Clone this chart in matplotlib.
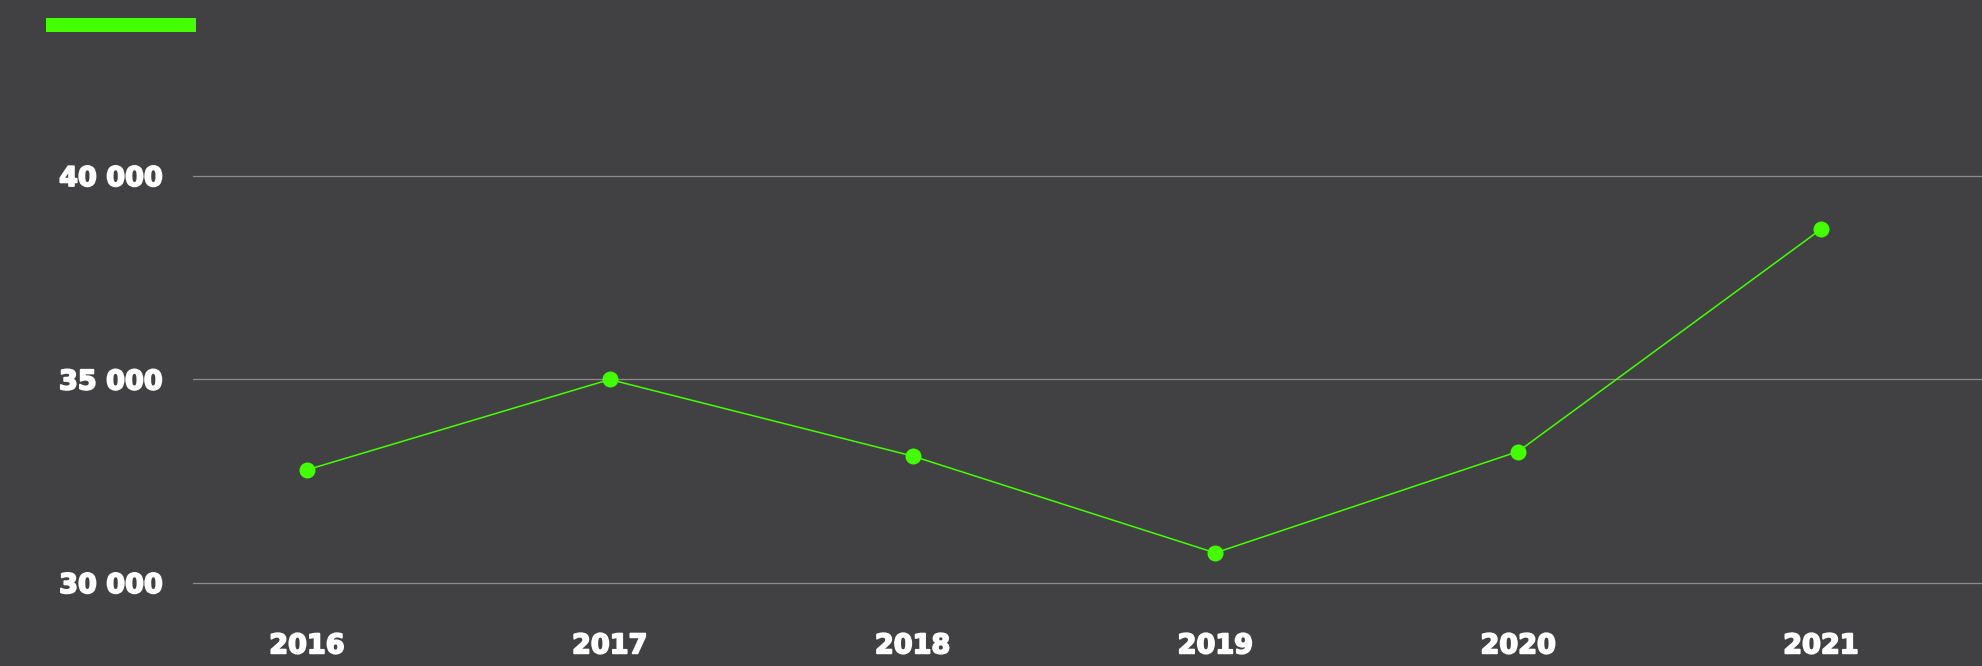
import matplotlib.pyplot as plt
import matplotlib.patheffects as pe
from matplotlib.patches import Rectangle
from matplotlib.ticker import FuncFormatter

years = ["2016", "2017", "2018", "2019", "2020", "2021"]
values = [32780, 35000, 33120, 30740, 33230, 38690]
yticks = [30000, 35000, 40000]

BG = "#414143"
GREEN = "#44ff00"
GRID = "#8c8c8c"

plt.rcParams["font.family"] = ["DejaVu Sans"]

fig = plt.figure(figsize=(19.82, 6.66), dpi=100, facecolor=BG)
ax = fig.add_axes([0.0974, 0.0991, 0.9026, 0.8108], facecolor=BG)

x = list(range(len(years)))
ax.plot(x, values, color=GREEN, lw=1.1, marker="o", ms=11.5,
        markerfacecolor=GREEN, markeredgewidth=0, zorder=3)

ax.set_xlim(-0.376, 5.532)
ax.set_ylim(29582, 42850)
ax.set_xticks(x)
ax.set_xticklabels(years)
ax.set_yticks(yticks)
ax.yaxis.set_major_formatter(FuncFormatter(lambda v, p: f"{int(v):,}".replace(",", " ")))

ax.grid(axis="y", color=GRID, lw=0.9)
ax.grid(axis="x", visible=False)
ax.set_axisbelow(True)
for s in ax.spines.values():
    s.set_visible(False)
ax.tick_params(axis="both", length=0, colors="white", labelsize=19.5)
ax.tick_params(axis="y", pad=22)
ax.tick_params(axis="x", pad=24)
# heavier look, closer to the extra-bold face of the original
heavy = [pe.withStroke(linewidth=1.3, foreground="white")]
for lab in ax.get_xticklabels() + ax.get_yticklabels():
    lab.set_fontweight("bold")
    lab.set_path_effects(heavy)

# legend swatch (no label text in the original)
fig.patches.append(Rectangle((46 / 1982, 1 - 32 / 666), 150 / 1982, 14 / 666,
                             transform=fig.transFigure, facecolor=GREEN,
                             edgecolor="none"))

fig.savefig("out.png", dpi=100, facecolor=BG)
